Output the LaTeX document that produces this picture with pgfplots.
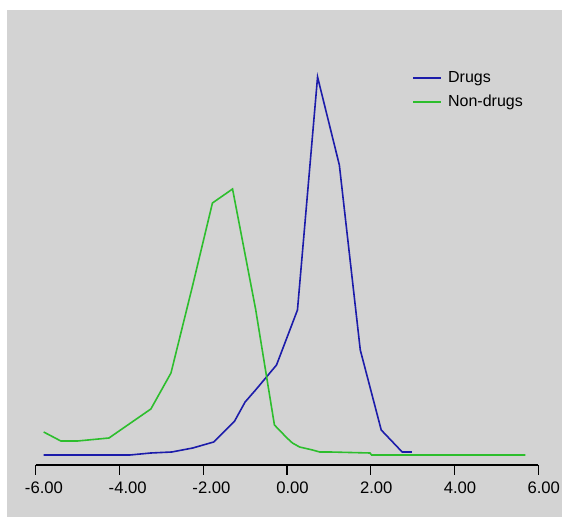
\documentclass[border=0pt]{standalone}
\usepackage{fontspec}
\setmainfont{Liberation Sans}
\usepackage{pgfplots}
\pgfplotsset{compat=1.18}
\definecolor{bg}{RGB}{211,211,211}
\definecolor{drugblue}{RGB}{28,28,170}
\definecolor{nongreen}{RGB}{45,190,45}

\begin{document}
\begin{tikzpicture}
% canvas: 562 x 517 px at 0.75pt per px
\path[use as bounding box, fill=white] (0pt,0pt) rectangle (421.5pt,387.75pt);
\fill[bg] (5.25pt,0pt) rectangle (421.5pt,380.25pt);
\begin{axis}[
  at={(26.775pt,39pt)}, anchor=south west,
  scale only axis, width=376.95pt, height=341.25pt,
  xmin=-6, xmax=6, ymin=-10, ymax=445,
  axis y line=none, axis x line*=bottom,
  x axis line style={black, line width=1pt, -},
  xtick={-6,-4,-2,0,2,4,6},
  xticklabels={-6.00,-4.00,-2.00,0.00,2.00,4.00,6.00},
  ytick=\empty,
  tick align=outside, major tick length=7.5pt,
  tick style={black, line width=1pt},
  xticklabel style={font=\fontsize{12.5}{15}\selectfont, anchor=north west,
                    inner sep=0pt, xshift=-8.25pt, yshift=-5pt},
  clip=false,
  legend cell align=left,
  legend image code/.code={\draw[#1, line width=1.4pt] (0pt,0pt) -- (21pt,0pt);},
  legend style={at={(0.7487,0.8675)}, anchor=north west, draw=none, fill=none,
                inner sep=0pt, font=\fontsize{12}{14}\selectfont,
                nodes={inner sep=0pt, text height=9pt, text depth=2.5pt},
                row sep=6.2pt, column sep=4.5pt},
]
\addplot[drugblue, line width=1.2pt] coordinates {
  (-5.81,0) (-3.75,0) (-3.25,2) (-2.75,3) (-2.25,7) (-1.75,13) (-1.25,34)
  (-1.0,53) (-0.75,65) (-0.25,90) (0.25,145) (0.73,378) (1.25,290)
  (1.75,105) (2.25,25) (2.75,3) (2.98,3)
};
\addlegendentry{Drugs}
\addplot[nongreen, line width=1.2pt] coordinates {
  (-5.81,23) (-5.4,14) (-5.0,14) (-4.25,17) (-3.25,46) (-2.77,82)
  (-2.25,170) (-1.78,252) (-1.3,266) (-0.75,146) (-0.3,30) (0.0,17)
  (0.13,12) (0.3,8) (0.61,5) (0.78,3) (1.02,3) (1.98,2) (2.02,0) (5.69,0)
};
\addlegendentry{Non-drugs}
\end{axis}
\end{tikzpicture}
\end{document}
